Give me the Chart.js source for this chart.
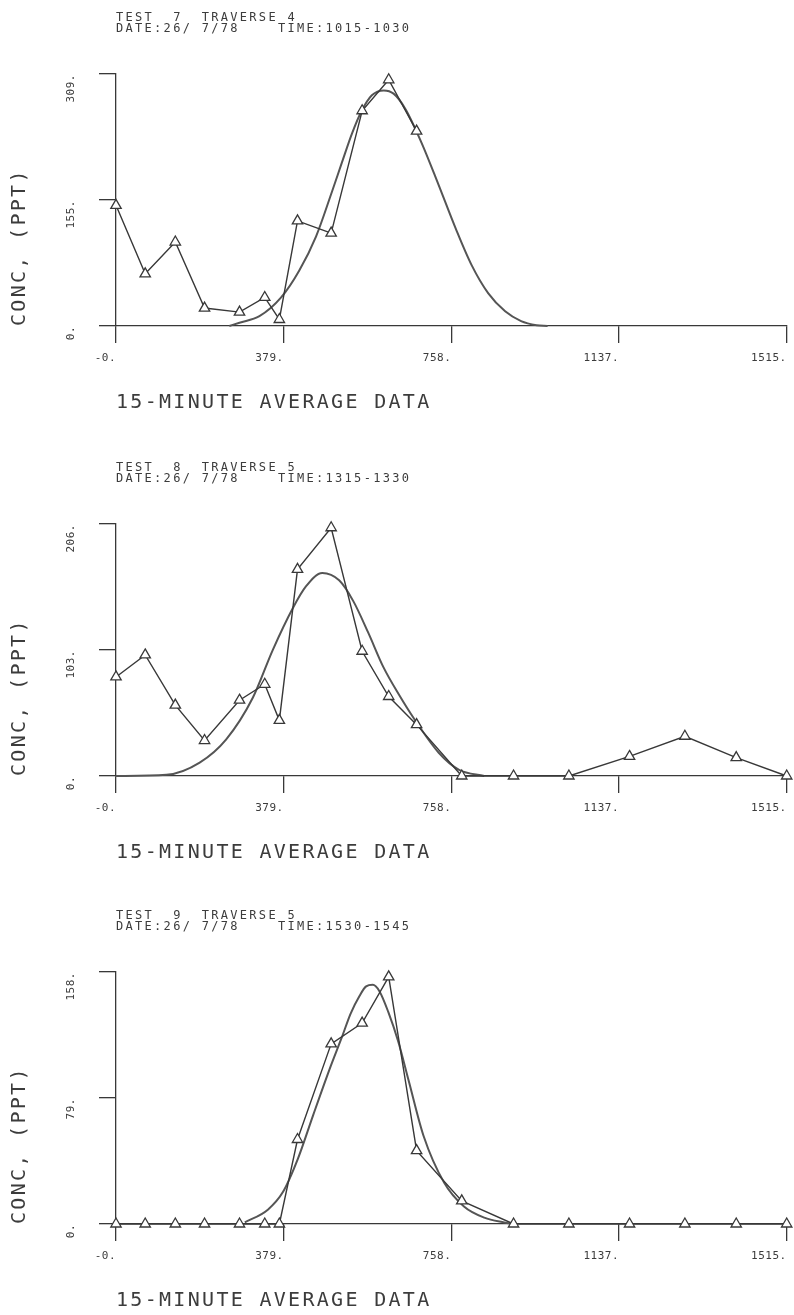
<!DOCTYPE html>
<html>
<head>
<meta charset="utf-8">
<title>15-minute average data, tests 7-9</title>
<script src="https://cdn.jsdelivr.net/npm/chart.js@4.4.1/dist/chart.umd.min.js"></script>
<style>
  html, body { margin: 0; padding: 0; background: #fff; }
  #page { position: relative; width: 794px; height: 1315px; overflow: hidden; }
  #page canvas { position: absolute; left: 0; }
</style>
</head>
<body>
<div id="page">
  <canvas id="test7" width="794" height="417" style="top:0px"></canvas>
  <canvas id="test8" width="794" height="417" style="top:450px"></canvas>
  <canvas id="test9" width="794" height="417" style="top:898px"></canvas>
</div>
<script>
// sample positions along the traverse (same for every test)
const distance = [0, 66, 134, 200, 279, 336, 369, 410, 486, 556, 616, 679, 781, 898, 1023, 1160, 1285, 1401, 1515];
const xTickValues = [0, 378.75, 757.5, 1136.25, 1515];
const xTickLabels = ['-0.', '379.', '758.', '1137.', '1515.'];

// TEST 7 / TRAVERSE 4
const test7Header = ['TEST  7  TRAVERSE 4', 'DATE:26/ 7/78    TIME:1015-1030'];
const test7Conc = [148, 64, 103, 22, 17, 35, 8, 129, 114, 264, 302, 239];
const test7FitX = [256, 279, 324, 373, 414, 452, 488, 510, 533, 555, 578, 605, 627, 654, 690, 728, 767, 803, 841, 879, 915, 950, 975];
const test7FitY = [0, 4, 12, 35, 68, 110, 165, 200, 236, 264, 283, 289, 285, 266, 225, 174, 120, 75, 40, 18, 6, 1, 0];
const test7YTicks = [0, 154.5, 309];
const test7YLabels = ['0.', '155.', '309.'];

// TEST 8 / TRAVERSE 5
const test8Header = ['TEST  8  TRAVERSE 5', 'DATE:26/ 7/78    TIME:1315-1330'];
const test8Conc = [81, 99, 58, 29, 62, 75, 45.5, 169, 203, 102, 65, 42, 0, 0, 0, 16, 32.5, 15, 0];
const test8FitX = [0, 114, 189, 249, 309, 354, 399, 429, 466, 504, 536, 570, 604, 640, 673, 729, 775, 832];
const test8FitY = [0, 1, 11, 30, 64, 103, 137, 155, 166, 160, 143, 117, 89, 66, 47, 19, 5, 0];
const test8YTicks = [0, 103, 206];
const test8YLabels = ['0.', '103.', '206.'];

// TEST 9 / TRAVERSE 5
const test9Header = ['TEST  9  TRAVERSE 5', 'DATE:26/ 7/78    TIME:1530-1545'];
const test9Conc = [0, 0, 0, 0, 0, 0, 0, 53, 113, 126, 155, 46, 14.5, 0, 0, 0, 0, 0, 0];
const test9FitX = [291, 343, 377, 411, 445, 485, 510, 530, 550, 565, 580, 595, 615, 638, 661, 695, 741, 786, 832, 877, 898];
const test9FitY = [1, 9, 20, 41, 68, 99, 117, 132, 143, 149, 150, 146, 133, 114, 90, 55, 26, 11, 4, 1, 0];
const test9YTicks = [0, 79, 158];
const test9YLabels = ['0.', '79.', '158.'];

const mono = "'DejaVu Sans Mono', monospace";
const ink = '#383838';
const textInk = '#3c3c3c';

// wide plotter lettering for titles, tighter for tick labels (drawn after datasets, ticks.z = 1)
const plotterSpacing = {
  id: 'plotterSpacing',
  beforeDraw(chart) { chart.ctx.letterSpacing = '2.3px'; },
  afterDatasetsDraw(chart) { chart.ctx.letterSpacing = '0.5px'; }
};

function axisLines() {
  return {
    grid: { drawOnChartArea: false, drawTicks: true, tickLength: 17, color: ink, lineWidth: 1.3 },
    border: { display: true, color: ink, width: 1.3 }
  };
}

function makeChart(id, header, conc, fitX, fitY, yTicks, yLabels) {
  const samples = conc.map((c, i) => ({ x: distance[i], y: c }));
  const fit = fitX.map((x, i) => ({ x: x, y: fitY[i] }));

  return new Chart(document.getElementById(id), {
    type: 'line',
    data: {
      datasets: [
        {
          data: samples,
          borderColor: ink,
          borderWidth: 1.4,
          tension: 0,
          pointStyle: 'triangle',
          pointRadius: 6,
          pointBorderWidth: 1.3,
          pointBorderColor: ink,
          pointBackgroundColor: '#fff'
        },
        {
          data: fit,
          borderColor: '#555',
          borderWidth: 2,
          pointRadius: 0,
          cubicInterpolationMode: 'monotone'
        }
      ]
    },
    options: {
      responsive: false,
      animation: false,
      clip: false,
      layout: { padding: { left: 0, right: 4, top: 0, bottom: 0 } },
      plugins: {
        legend: { display: false },
        tooltip: { enabled: false },
        title: {
          display: true,
          text: header,
          align: 'start',
          fullSize: false,
          color: textInk,
          font: { family: mono, size: 12, weight: 'normal', lineHeight: 0.92 },
          padding: { top: 12, bottom: 40 }
        }
      },
      scales: {
        x: {
          type: 'linear',
          min: 0,
          max: 1515,
          ...axisLines(),
          afterBuildTicks: s => { s.ticks = xTickValues.map(v => ({ value: v })); },
          afterFit: s => { s.height = 91; s.paddingLeft = 0; s.paddingRight = 0; },
          ticks: {
            z: 1,
            align: 'end',
            padding: 9,
            autoSkip: false,
            maxRotation: 0,
            color: textInk,
            font: { family: mono, size: 11 },
            callback: (v, i) => xTickLabels[i]
          },
          title: {
            display: true,
            text: '15-MINUTE AVERAGE DATA',
            align: 'start',
            color: textInk,
            font: { family: mono, size: 20, lineHeight: 1.2 },
            padding: { top: 0, bottom: 2 }
          }
        },
        y: {
          type: 'linear',
          min: 0,
          max: yTicks[yTicks.length - 1],
          ...axisLines(),
          afterBuildTicks: s => { s.ticks = yTicks.map(v => ({ value: v })); },
          afterFit: s => { s.width = 116; s.paddingTop = 0; s.paddingBottom = 0; },
          ticks: {
            z: 1,
            minRotation: 90,
            maxRotation: 90,
            padding: 28,
            autoSkip: false,
            color: textInk,
            font: { family: mono, size: 11 },
            callback: (v, i) => yLabels[i]
          },
          title: {
            display: true,
            text: 'CONC, (PPT)',
            align: 'start',
            color: textInk,
            font: { family: mono, size: 20, lineHeight: 1.2 },
            padding: { top: 8, bottom: 0 }
          }
        }
      }
    },
    plugins: [plotterSpacing]
  });
}

makeChart('test7', test7Header, test7Conc, test7FitX, test7FitY, test7YTicks, test7YLabels);
makeChart('test8', test8Header, test8Conc, test8FitX, test8FitY, test8YTicks, test8YLabels);
makeChart('test9', test9Header, test9Conc, test9FitX, test9FitY, test9YTicks, test9YLabels);
</script>
</body>
</html>
